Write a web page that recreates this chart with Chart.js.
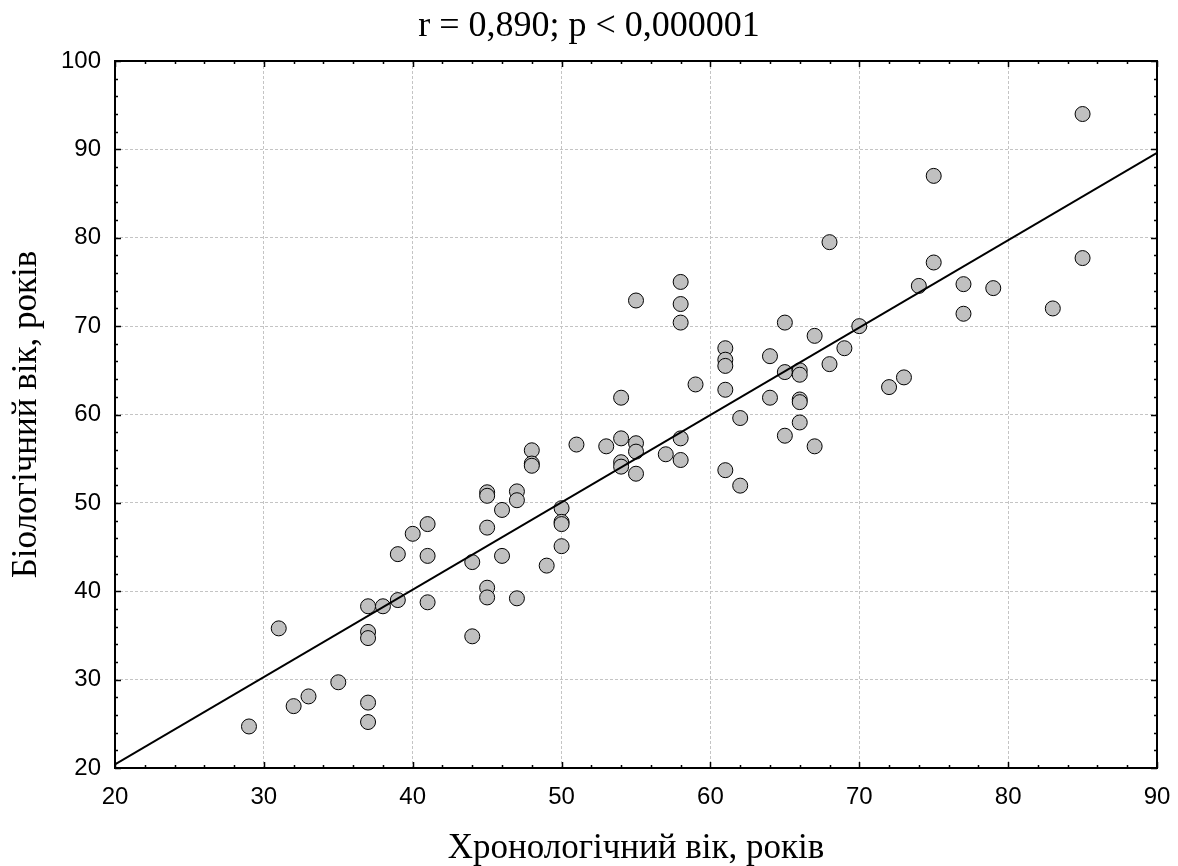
<!DOCTYPE html>
<html>
<head>
<meta charset="utf-8">
<script src="https://cdn.jsdelivr.net/npm/chart.js@4/dist/chart.umd.min.js"></script>
<style>
  html, body { margin: 0; padding: 0; background: #fff; }
  #wrap { width: 1178px; height: 866px; position: relative; }
</style>
</head>
<body>
<div id="wrap"><canvas id="scatterChart"></canvas></div>
<script>
// chronological age (x) and biological age (y), one entry per patient
const chronoAge = [29, 31, 32, 33, 35, 37, 37, 37, 37, 37, 38, 39, 39, 40, 41, 41, 41, 44, 44,
    45, 45, 45, 45, 45, 46, 46, 47, 47, 47, 48, 48, 48, 49, 50, 50, 50, 50, 51, 53,
    54, 54, 54, 54, 55, 55, 55, 55, 57, 58, 58, 58, 58, 58, 59, 61, 61, 61, 61, 61,
    62, 62, 64, 64, 65, 65, 65, 66, 66, 66, 66, 66, 67, 67, 68, 68, 69, 70, 72, 73,
    74, 75, 75, 77, 77, 79, 83, 85, 85];
const bioAge = [24.7, 35.8, 27.0, 28.1, 29.7, 38.3, 35.4, 34.7, 27.4, 25.2, 38.3, 44.2, 39.0, 46.5, 47.6, 44.0, 38.75, 43.3, 34.9,
    51.2, 50.8, 47.2, 40.4, 39.3, 49.2, 44.0, 51.3, 50.3, 39.2, 55.95, 54.45, 54.2, 42.9, 49.4, 47.85, 47.6, 45.1, 56.6, 56.4,
    61.9, 57.3, 54.6, 54.1, 72.9, 56.75, 55.8, 53.3, 55.5, 75.0, 72.5, 70.4, 57.3, 54.85, 63.4, 67.5, 66.2, 65.5, 62.8, 53.7,
    59.6, 51.95, 66.6, 61.9, 70.4, 64.8, 57.6, 65.0, 64.5, 61.7, 61.4, 59.1, 68.9, 56.4, 79.5, 65.7, 67.5, 70.0, 63.1, 64.2,
    74.55, 87.0, 77.2, 74.75, 71.4, 74.3, 72.0, 94.0, 77.7];

// fitted regression line, read at the two ends of the x range
const fitX = [20, 90];
const fitY = [20.4, 89.6];

const xTickValues = [20, 30, 40, 50, 60, 70, 80, 90];
const yTickValues = [20, 30, 40, 50, 60, 70, 80, 90, 100];
const minorStep = 2;

const chartTitle = 'r = 0,890; p < 0,000001';
const xTitle = 'Хронологічний вік, років';
const yTitle = 'Біологічний вік, років';

const serif = '"Liberation Serif", "Times New Roman", serif';
const sans = '"Liberation Sans", Arial, sans-serif';

// box round the plot, inward major/minor ticks on all sides, and the title
const framePlugin = {
    id: 'frame',
    afterDatasetsDraw(chart) {
        const { ctx, chartArea: a, scales: { x, y } } = chart;
        ctx.save();
        ctx.strokeStyle = '#000';
        ctx.lineWidth = 1.5;
        ctx.beginPath();
        for (let v = x.min; v <= x.max + 1e-9; v += minorStep) {
            const px = Math.round(x.getPixelForValue(v)) + 0.5;
            const len = xTickValues.includes(v) ? 6 : 3;
            ctx.moveTo(px, a.bottom); ctx.lineTo(px, a.bottom - len);
            ctx.moveTo(px, a.top); ctx.lineTo(px, a.top + len);
        }
        for (let v = y.min; v <= y.max + 1e-9; v += minorStep) {
            const py = Math.round(y.getPixelForValue(v)) + 0.5;
            const len = yTickValues.includes(v) ? 6 : 3;
            ctx.moveTo(a.left, py); ctx.lineTo(a.left + len, py);
            ctx.moveTo(a.right, py); ctx.lineTo(a.right - len, py);
        }
        ctx.stroke();
        ctx.lineWidth = 2;
        ctx.strokeRect(a.left, a.top, a.right - a.left, a.bottom - a.top);

        ctx.fillStyle = '#000';
        ctx.font = '36px ' + serif;
        ctx.textAlign = 'center';
        ctx.textBaseline = 'alphabetic';
        ctx.fillText(chartTitle, chart.width / 2, 36);
        ctx.restore();
    }
};

const ctx = document.getElementById('scatterChart').getContext('2d');
new Chart(ctx, {
    type: 'scatter',
    data: {
        datasets: [
            {
                type: 'line',
                data: fitX.map((v, i) => ({ x: v, y: fitY[i] })),
                borderColor: '#000',
                borderWidth: 2,
                pointRadius: 0,
                fill: false,
                order: 1
            },
            {
                data: chronoAge.map((v, i) => ({ x: v, y: bioAge[i] })),
                backgroundColor: '#c0c0c0',
                borderColor: '#000',
                borderWidth: 1,
                pointRadius: 7.5,
                pointHoverRadius: 7.5,
                order: 2
            }
        ]
    },
    options: {
        responsive: true,
        maintainAspectRatio: false,
        animation: false,
        layout: { padding: { top: 61, right: 21, left: 0, bottom: 0 } },
        plugins: {
            legend: { display: false },
            tooltip: { enabled: false },
            title: { display: false }
        },
        scales: {
            x: {
                type: 'linear',
                min: 20,
                max: 90,
                afterBuildTicks: (scale) => { scale.ticks = xTickValues.map(v => ({ value: v })); },
                afterFit: (scale) => {
                    scale.height = 98;
                    scale.paddingLeft = 0;
                    scale.paddingRight = 0;
                },
                grid: { color: '#c4c4c4', lineWidth: 1, drawTicks: false },
                border: { display: false, dash: [3, 2] },
                ticks: { color: '#000', font: { family: sans, size: 24 }, padding: 15, maxRotation: 0 },
                title: {
                    display: true,
                    text: xTitle,
                    color: '#000',
                    font: { family: serif, size: 35, lineHeight: 1 },
                    padding: { top: 0, bottom: 0 }
                }
            },
            y: {
                type: 'linear',
                min: 20,
                max: 100,
                afterBuildTicks: (scale) => { scale.ticks = yTickValues.map(v => ({ value: v })); },
                afterFit: (scale) => {
                    scale.width = 115;
                    scale.paddingTop = 0;
                    scale.paddingBottom = 0;
                },
                grid: { color: '#c4c4c4', lineWidth: 1, drawTicks: false },
                border: { display: false, dash: [3, 2] },
                ticks: { color: '#000', font: { family: sans, size: 24 }, padding: 14 },
                title: {
                    display: true,
                    text: yTitle,
                    color: '#000',
                    font: { family: serif, size: 35, lineHeight: 1 },
                    padding: { top: 9, bottom: 0 }
                }
            }
        }
    },
    plugins: [framePlugin]
});
</script>
</body>
</html>
